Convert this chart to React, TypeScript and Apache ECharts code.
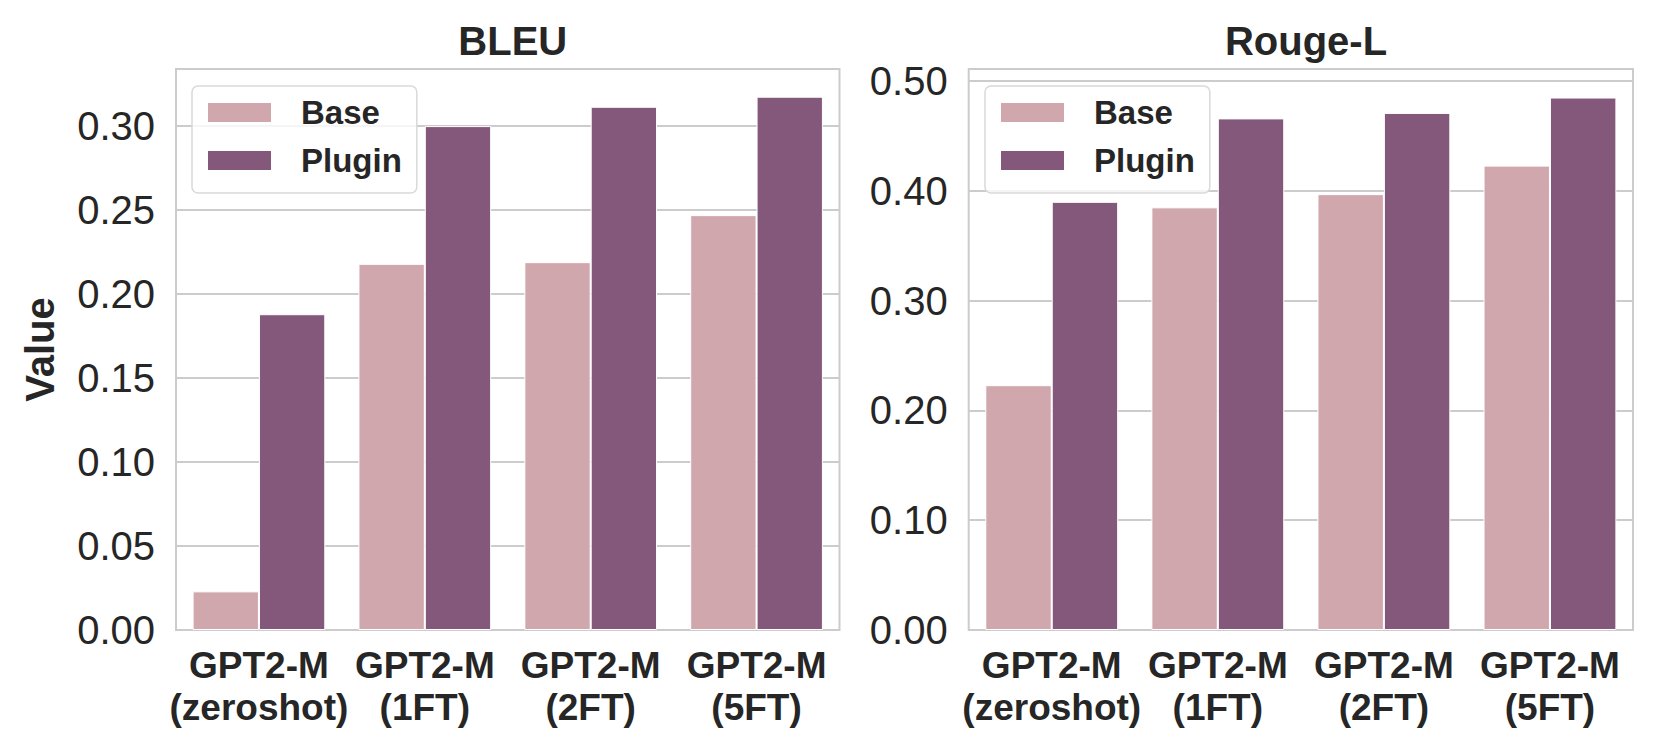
import React, { useEffect, useRef } from "react";
import * as echarts from "echarts";

const categories = ["GPT2-M\n(zeroshot)", "GPT2-M\n(1FT)", "GPT2-M\n(2FT)", "GPT2-M\n(5FT)"];
const seriesNames = ["Base", "Plugin"];
const bleuBase = [0.023, 0.218, 0.219, 0.247];
const bleuPlugin = [0.188, 0.3, 0.3115, 0.3175];
const rougeBase = [0.223, 0.385, 0.397, 0.423];
const rougePlugin = [0.39, 0.466, 0.471, 0.485];
const panelTitles = ["BLEU", "Rouge-L"];
const yAxisTitle = "Value";

const BASE_COLOR = "#d1a7ae";
const PLUGIN_COLOR = "#83587b";
const TEXT = "#262626";
const GRID_LINE = "#cccccc";
const FONT = "'Liberation Sans', Arial, Helvetica, sans-serif";

export default function App() {
  const ref = useRef<HTMLDivElement>(null);
  useEffect(() => {
    document.body.style.margin = "0";
    if (!ref.current) return;
    const chart = echarts.init(ref.current, null, { renderer: "svg" });
    const grids = [
      { left: 176, top: 69, width: 663.5, height: 561 },
      { left: 968.7, top: 69, width: 664.3, height: 561 },
    ];
    const legendCommon = {
      orient: "vertical" as const,
      data: seriesNames,
      icon: "rect",
      itemWidth: 65,
      itemHeight: 21,
      itemGap: 15,
      padding: [10, 15, 16, 14],
      borderColor: "#d9d9d9",
      borderWidth: 1.5,
      borderRadius: 6,
      backgroundColor: "rgba(255,255,255,0.8)",
      textStyle: {
        fontFamily: FONT,
        fontSize: 33,
        fontWeight: "bold" as const,
        color: TEXT,
        padding: [0, 0, 0, 24],
      },
      z: 10,
    };
    const xAxisCommon = {
      type: "category" as const,
      data: categories,
      axisLine: { show: false },
      axisTick: { show: false },
      splitLine: { show: false },
      axisLabel: {
        fontFamily: FONT,
        fontSize: 37,
        fontWeight: "bold" as const,
        color: TEXT,
        lineHeight: 42,
        margin: 14,
        interval: 0,
      },
    };
    const yLabel = (v: number) => v.toFixed(2);
    const yAxisCommon = {
      type: "value" as const,
      min: 0,
      axisLine: { show: false },
      axisTick: { show: false },
      splitLine: { show: true, lineStyle: { color: GRID_LINE, width: 2 } },
      axisLabel: {
        fontFamily: FONT,
        fontSize: 40,
        color: TEXT,
        margin: 21,
        formatter: yLabel,
        showMaxLabel: false,
      },
    };
    const barCommon = {
      type: "bar" as const,
      barWidth: "40%",
      barGap: "0%",
    };
    const titleStyle = { fontFamily: FONT, fontSize: 40, fontWeight: "bold", color: TEXT };
    chart.setOption({
      animation: false,
      backgroundColor: "#ffffff",
      title: [
        { text: panelTitles[0], left: 507.8, top: 16, textAlign: "center", textStyle: titleStyle },
        { text: panelTitles[1], left: 1301, top: 16, textAlign: "center", textStyle: titleStyle },
      ],
      legend: [
        { ...legendCommon, left: 192, top: 86 },
        { ...legendCommon, left: 985, top: 86 },
      ],
      grid: grids.map((g) => ({
        ...g,
        show: true,
        borderColor: GRID_LINE,
        borderWidth: 2,
        backgroundColor: "transparent",
        containLabel: false,
      })),
      xAxis: [
        { ...xAxisCommon, gridIndex: 0 },
        { ...xAxisCommon, gridIndex: 1 },
      ],
      yAxis: [
        {
          ...yAxisCommon,
          gridIndex: 0,
          max: 0.334,
          interval: 0.05,
          name: yAxisTitle,
          nameLocation: "middle",
          nameRotate: 90,
          nameGap: 116,
          nameTextStyle: { fontFamily: FONT, fontSize: 40, fontWeight: "bold", color: TEXT },
        },
        { ...yAxisCommon, gridIndex: 1, max: 0.511, interval: 0.1 },
      ],
      series: [
        { ...barCommon, name: seriesNames[0], xAxisIndex: 0, yAxisIndex: 0, data: bleuBase, itemStyle: { color: BASE_COLOR, borderColor: "#ffffff", borderWidth: 1 } },
        { ...barCommon, name: seriesNames[1], xAxisIndex: 0, yAxisIndex: 0, data: bleuPlugin, itemStyle: { color: PLUGIN_COLOR, borderColor: "#ffffff", borderWidth: 1 } },
        { ...barCommon, name: seriesNames[0], xAxisIndex: 1, yAxisIndex: 1, data: rougeBase, itemStyle: { color: BASE_COLOR, borderColor: "#ffffff", borderWidth: 1 } },
        { ...barCommon, name: seriesNames[1], xAxisIndex: 1, yAxisIndex: 1, data: rougePlugin, itemStyle: { color: PLUGIN_COLOR, borderColor: "#ffffff", borderWidth: 1 } },
      ],
    });
    return () => chart.dispose();
  }, []);
  return <div ref={ref} style={{ width: 1661, height: 755 }} />;
}
